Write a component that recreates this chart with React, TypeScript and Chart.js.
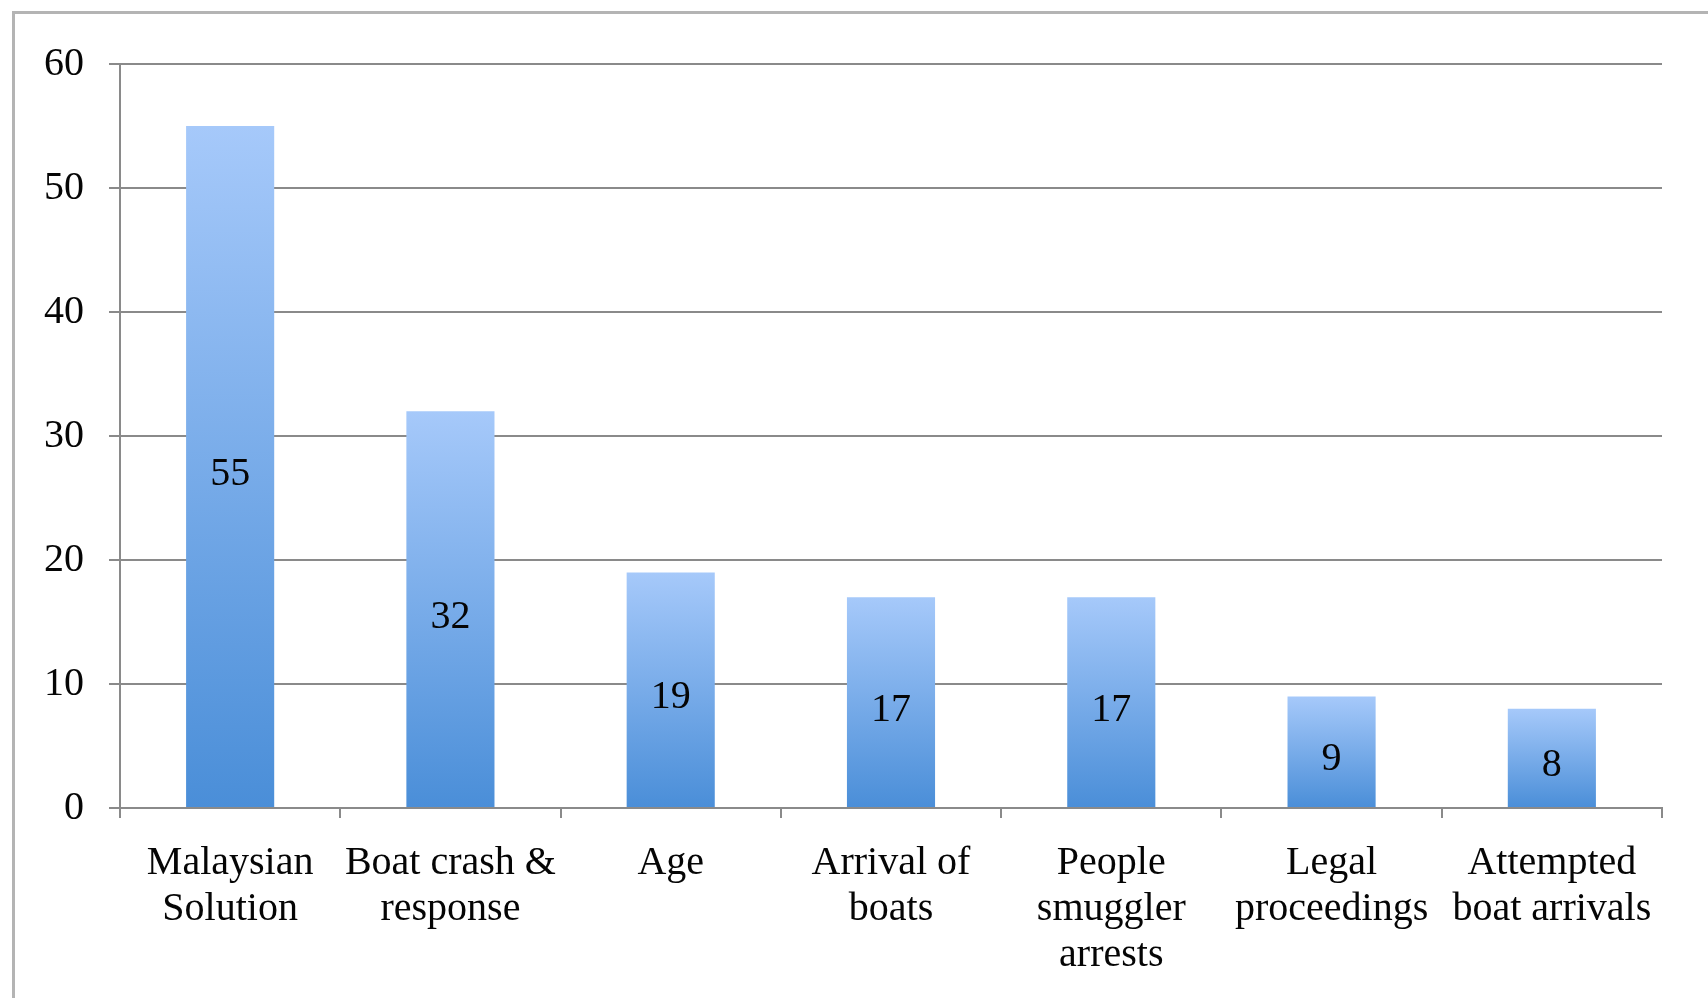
import React, { useEffect, useRef } from "react";
import { Chart, registerables } from "chart.js";

Chart.register(...registerables);

const categories: string[][] = [
  ["Malaysian", "Solution"],
  ["Boat crash &", "response"],
  ["Age"],
  ["Arrival of", "boats"],
  ["People", "smuggler", "arrests"],
  ["Legal", "proceedings"],
  ["Attempted", "boat arrivals"],
];
const values: number[] = [55, 32, 19, 17, 17, 9, 8];
const yTicks: number[] = [0, 10, 20, 30, 40, 50, 60];

const FONT = "'Liberation Serif', 'Times New Roman', serif";
const TEXT = "#050505";
const GRID = "#8a8a8a";
const TOP_COLOR = "#a6c9fa";
const BOTTOM_COLOR = "#4a8ed8";

const frame = {
  id: "frame",
  beforeDraw(chart: any) {
    const ctx = chart.ctx;
    ctx.save();
    ctx.fillStyle = "#ffffff";
    ctx.fillRect(0, 0, chart.width, chart.height);
    ctx.strokeStyle = "#b4b4b4";
    ctx.lineWidth = 3;
    ctx.strokeRect(13.5, 12.5, chart.width + 20, chart.height + 20);
    ctx.restore();
  },
};

const valueLabels = {
  id: "valueLabels",
  afterDatasetsDraw(chart: any) {
    const ctx = chart.ctx;
    const meta = chart.getDatasetMeta(0);
    ctx.save();
    ctx.font = `40px ${FONT}`;
    ctx.fillStyle = TEXT;
    ctx.textAlign = "center";
    ctx.textBaseline = "middle";
    meta.data.forEach((el: any, i: number) => {
      ctx.fillText(String(values[i]), el.x, (el.y + el.base) / 2 + 8);
    });
    ctx.restore();
  },
};

export default function App() {
  const ref = useRef<HTMLCanvasElement | null>(null);

  useEffect(() => {
    if (!ref.current) return;
    const chart = new Chart(ref.current, {
      type: "bar",
      data: {
        labels: categories,
        datasets: [
          {
            data: values,
            backgroundColor: (c: any) => {
              const ch = c.chart;
              if (!ch.chartArea || c.raw === undefined) return BOTTOM_COLOR;
              const y = ch.scales.y;
              const top = y.getPixelForValue(c.raw);
              const bot = y.getPixelForValue(0);
              const g = ch.ctx.createLinearGradient(0, top, 0, bot);
              g.addColorStop(0, TOP_COLOR);
              g.addColorStop(1, BOTTOM_COLOR);
              return g;
            },
            borderWidth: 0,
            barPercentage: 0.8,
            categoryPercentage: 0.5,
          },
        ],
      },
      options: {
        animation: false,
        responsive: false,
        maintainAspectRatio: false,
        layout: { padding: { left: 0, top: 64, right: 46, bottom: 0 } },
        plugins: { legend: { display: false }, tooltip: { enabled: false } },
        scales: {
          x: {
            grid: {
              offset: true,
              drawOnChartArea: false,
              drawTicks: true,
              tickLength: 10,
              color: GRID,
              lineWidth: 2,
            },
            border: { color: GRID, width: 2 },
            ticks: {
              color: TEXT,
              font: { family: FONT, size: 40, lineHeight: 1.15 },
              padding: 22,
              maxRotation: 0,
              autoSkip: false,
            },
            afterFit: (s: any) => {
              s.height = 190;
            },
          },
          y: {
            min: 0,
            max: 60,
            afterBuildTicks: (s: any) => {
              s.ticks = yTicks.map((v) => ({ value: v }));
            },
            grid: { color: GRID, lineWidth: 2, tickLength: 11 },
            border: { color: GRID, width: 2 },
            ticks: {
              color: TEXT,
              font: { family: FONT, size: 40 },
              padding: 25,
            },
            afterFit: (s: any) => {
              s.width = 120;
            },
          },
        },
      },
      plugins: [frame, valueLabels],
    });
    return () => chart.destroy();
  }, []);

  return (
    <div style={{ position: "fixed", left: 0, top: 0, width: 1708, height: 998 }}>
      <canvas ref={ref} width={1708} height={998} style={{ display: "block" }} />
    </div>
  );
}
